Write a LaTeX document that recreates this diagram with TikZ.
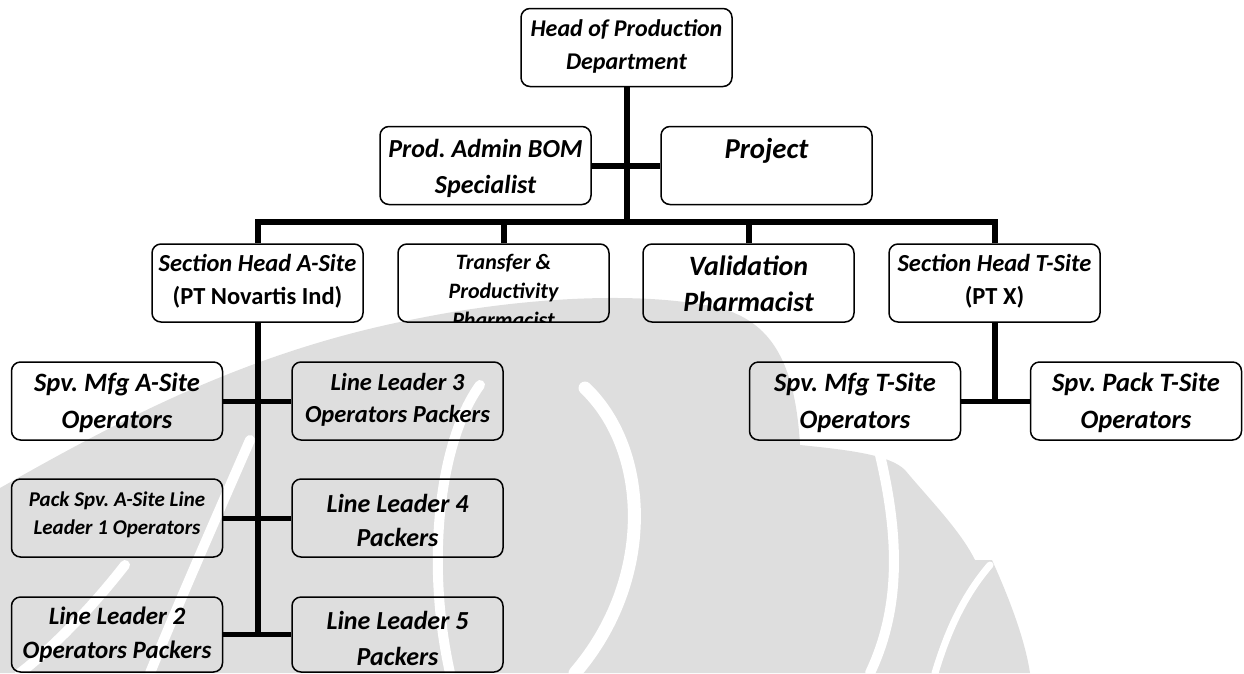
\documentclass[tikz,border=0pt]{standalone}
\usepackage{fontspec}
\setmainfont{Carlito}
\frenchspacing
\begin{document}
\begin{tikzpicture}[x=1pt,y=-1pt,
  box/.style={draw=black, line width=1.5pt, rounded corners=9pt,
    minimum width=211pt, minimum height=78pt, inner sep=0pt},
  lbl/.style 2 args={anchor=base, align=flush center, inner sep=0pt, text width=210pt,
    font=\bfseries\itshape\fontsize{#1}{#2}\selectfont},
  link/.style={draw=black, line width=6pt},
  sublink/.style={draw=black, line width=5pt},
  wm/.style={fill=black!13, draw=none},
  wmcut/.style={draw=white, line width=10pt, line cap=round}]

\useasboundingbox (0,0) rectangle (1244,673);
\clip (0,0) rectangle (1244,673);

% faint emblem in the background
\fill[wm] (0,673) -- (0,488)
  .. controls (120,420) and (250,350) .. (420,318)
  .. controls (520,298) and (640,290) .. (720,308)
  .. controls (770,322) and (795,360) .. (800,445)
  .. controls (850,450) and (890,455) .. (905,470)
  .. controls (930,500) and (960,530) .. (975,560)
  -- (992,560)
  .. controls (1010,600) and (1025,640) .. (1030,673) -- cycle;
\draw[wmcut] (480,385) .. controls (440,440) and (425,560) .. (450,673);
\draw[wmcut, line width=13pt] (585,388) .. controls (650,450) and (655,580) .. (575,673);
\draw[wmcut] (250,440) .. controls (215,520) and (180,600) .. (150,673);
\draw[wmcut] (125,565) .. controls (90,610) and (50,650) .. (20,673);
\draw[wmcut] (880,455) .. controls (900,540) and (900,610) .. (870,673);
\draw[wmcut, line width=7pt] (990,565) .. controls (960,600) and (945,640) .. (935,673);

% boxes
\node[box] (head)     at (626.5,47.5) {};
\node[box] (prod)     at (485.5,165.5) {};
\node[box] (project)  at (766.5,165.5) {};
\node[box] (secA)     at (257.5,283) {};
\node[box] (transfer) at (503.5,283) {};
\node[box] (valid)    at (748.5,283) {};
\node[box] (secT)     at (994.5,283) {};
\node[box] (spvA)     at (117,401) {};
\node[box] (ll3)      at (397.5,401) {};
\node[box] (spvT)     at (855,401) {};
\node[box] (packT)    at (1136,401) {};
\node[box] (packA)    at (117,518) {};
\node[box] (ll4)      at (397.5,518) {};
\node[box, minimum height=75pt] (ll2) at (117,634.5) {};
\node[box, minimum height=75pt] (ll5) at (397.5,634.5) {};

% labels
\node[lbl={24}{33}] (head-t) at (626.5,36) {Head of Production\\Department};
\node[lbl={26}{36}] (prod-t) at (485.5,157.5) {Prod. Admin BOM\\Specialist};
\node[lbl={28.8}{36}] (project-t) at (766.5,158) {Project};
\node[lbl={24.5}{33}] (secA-t) at (257.5,271.5) {Section Head A-Site\\{\upshape (PT Novartis Ind)}};
\begin{scope}
  \clip[rounded corners=8pt] ([shift={(1.5,-1.5)}]transfer.south west) rectangle ([shift={(-1.5,1.5)}]transfer.north east);
  \node[lbl={22}{29}] (transfer-t) at (503.5,269) {Transfer \&\\Productivity\\Pharmacist};
\end{scope}
\node[lbl={28}{36.5}] (valid-t) at (748.5,275) {Validation\\Pharmacist};
\node[lbl={24.5}{33}] (secT-t) at (994.5,271.5) {Section Head T-Site\\{\upshape (PT X)}};
\node[lbl={26.5}{37}] (spvA-t) at (117,391.5) {Spv. Mfg A-Site\\Operators};
\node[lbl={24.5}{32}] (ll3-t) at (397.5,390) {Line Leader 3\\Operators Packers};
\node[lbl={26.5}{37}] (spvT-t) at (855,391.5) {Spv. Mfg T-Site\\Operators};
\node[lbl={26.5}{37}] (packT-t) at (1136,391.5) {Spv. Pack T-Site\\Operators};
\node[lbl={21}{28}] (packA-t) at (117,506) {Pack Spv. A-Site Line\\Leader 1 Operators};
\node[lbl={26}{34}] (ll4-t) at (397.5,512.5) {Line Leader 4\\Packers};
\node[lbl={25}{34}] (ll2-t) at (117,624) {Line Leader 2\\Operators Packers};
\node[lbl={26}{36}] (ll5-t) at (397.5,629) {Line Leader 5\\Packers};

% connectors
\coordinate (bus) at (626.5,222);
\draw[link] (head.south) -- (bus);
\draw[link] (prod.east) -- (project.west);
\draw[link] (secA.north) |- (bus) -| (secT.north);
\draw[link] (transfer.north) -- (transfer.north |- bus);
\draw[link] (valid.north) -- (valid.north |- bus);

\draw[link] (secA.south) -- (secA.south |- ll2.east);
\draw[sublink] (spvA.east) -- (ll3.west);
\draw[sublink] (packA.east) -- (ll4.west);
\draw[sublink] (ll2.east) -- (ll5.west);

\draw[link] (secT.south) -- (secT.south |- spvT.east);
\draw[sublink] (spvT.east) -- (packT.west);
\end{tikzpicture}
\end{document}
